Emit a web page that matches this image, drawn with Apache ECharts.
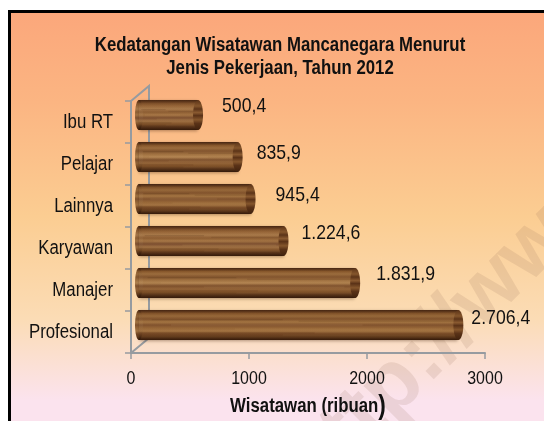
<!DOCTYPE html>
<html><head><meta charset="utf-8">
<style>html,body{margin:0;padding:0;background:#fff}#c{width:544px;height:421px}</style>
<script src="https://cdn.jsdelivr.net/npm/echarts@6/dist/echarts.min.js"></script>
</head><body><div id="c"></div>
<script>
const categories = ['Profesional','Manajer','Karyawan','Lainnya','Pelajar','Ibu RT'];
const values = [2706.4,1831.9,1224.6,945.4,835.9,500.4];
const valueLabels = ['2.706,4','1.831,9','1.224,6','945,4','835,9','500,4'];
const xTicks = [0,1000,2000,3000];
const watermark = 'http://www';
const titleText = 'Kedatangan Wisatawan Mancanegara Menurut\nJenis Pekerjaan, Tahun 2012';
// manual label placement of the original, relative to the bar end / bar centre
const labelDx = [8,16,13,20,14,19];
const labelDy = [-7,-9,-8,-4,-4,-9];

const font = '"Liberation Sans"';
const condense = 0.84;
const grains = [
 ['#56301a','#84542a','#9a6a3a','#7f4f28','#a0703c','#7a4a26','#946232','#a87642','#7a4b26','#7d4f28','#4e2b14'],
 ['#5a331b','#8a592c','#9f6f3e','#80512a','#9a6a3a','#ad7e4a','#7a4b27','#986638','#88582c','#6f4424','#4c2a15'],
 ['#5a331a','#81512a','#9a6839','#a87848','#88572c','#9e6d3c','#78492a','#a47344','#8a592d','#6d4223','#4e2b15']
];
function woodFill(i){
  const g = grains[i % grains.length];
  return {type:'linear',x:0,y:0,x2:0,y2:1,colorStops:g.map((c,k)=>({offset:k/(g.length-1),color:c}))};
}
const shade = {type:'linear',x:0,y:0,x2:0,y2:1,colorStops:[
 {offset:0,color:'rgba(50,25,8,.45)'},{offset:.12,color:'rgba(50,25,8,.06)'},
 {offset:.45,color:'rgba(255,230,190,.05)'},{offset:.8,color:'rgba(50,25,8,.10)'},{offset:1,color:'rgba(40,18,5,.65)'}]};

function renderBar(params, api){
  const i = params.dataIndex;
  const base = api.coord([0, api.value(1)]);
  const end = api.coord([api.value(0), api.value(1)]);
  const h = 30, cy = base[1]-7, x0 = base[0]+4, xr = end[0]+13, rxL = 4, rxR = 5;
  const top = cy-h/2;
  const L = xr-rxR-x0-rxL;
  const kids = [];
  kids.push({type:'ellipse',shape:{cx:x0+rxL,cy,rx:rxL,ry:h/2},style:{fill:woodFill(i)}});
  kids.push({type:'rect',shape:{x:x0+rxL,y:top,width:L,height:h},
    style:{fill:woodFill(i),shadowBlur:3,shadowColor:'rgba(60,30,10,.4)',shadowOffsetY:1}});
  [[.04,.45,.30,'rgba(70,38,14,.16)'],[.3,.95,.62,'rgba(205,160,100,.14)'],[.1,.7,.48,'rgba(215,175,120,.14)'],
   [.5,1,.36,'rgba(80,42,16,.14)'],[.0,.55,.74,'rgba(80,42,16,.16)'],[.45,1,.82,'rgba(200,150,95,.12)']].forEach(s=>{
    kids.push({type:'rect',shape:{x:x0+rxL+L*s[0],y:top+h*s[2],width:L*(s[1]-s[0]),height:1.2},style:{fill:s[3]}});
  });
  kids.push({type:'rect',shape:{x:x0+rxL,y:top,width:L,height:h},style:{fill:shade}});
  kids.push({type:'ellipse',shape:{cx:x0+rxL,cy,rx:rxL,ry:h/2},style:{fill:shade}});
  kids.push({type:'ellipse',shape:{cx:xr-rxR,cy,rx:rxR,ry:h/2},style:{fill:{type:'linear',x:0,y:0,x2:0,y2:1,colorStops:[
    {offset:0,color:'#5a3217'},{offset:.2,color:'#85562c'},{offset:.3,color:'#5c3418'},{offset:.42,color:'#8a5a30'},
    {offset:.52,color:'#5a3217'},{offset:.66,color:'#85562c'},{offset:.78,color:'#5a3217'},{offset:1,color:'#40220e'}]}}});
  kids.push({type:'text',x:xr+labelDx[i],y:cy+labelDy[i],style:{text:valueLabels[i],
    font:'21px '+font,fill:'#111',align:'left',verticalAlign:'middle'}});
  return {type:'group',children:kids};
}
function renderWall(params, api){
  const a = api.coord([0,0]), topY = api.coord([0,categories.length-1]);
  const band = api.size([0,1])[1];
  const bot = a[1]+band/2, top = topY[1]-band/2, x = a[0];
  const dx = 18, dy = 15;
  const style = {stroke:'#969ba0',lineWidth:2,fill:'none'};
  return {type:'group',children:[
    {type:'polyline',shape:{points:[[x,top],[x+dx,top-dy],[x+dx,bot-dy],[x,bot]]},style}
  ]};
}
const chart = echarts.init(document.getElementById('c'),null,{renderer:'canvas'});
chart.setOption({
  animation:false,
  backgroundColor:'#fff',
  graphic:[
    {type:'rect',z:-10,shape:{x:10,y:12,width:534,height:409},style:{fill:{type:'linear',x:0,y:0,x2:0,y2:1,colorStops:[
      {offset:0,color:'#fba77b'},{offset:.22,color:'#fbb582'},{offset:.5,color:'#fbcd92'},{offset:.75,color:'#fbdcb5'},{offset:.95,color:'#fbe3ee'},{offset:1,color:'#fbe3ee'}]}}},
    {type:'rect',z:-9,shape:{x:8,y:10,width:536,height:3},style:{fill:'#000'}},
    {type:'rect',z:-9,shape:{x:8,y:10,width:3,height:411},style:{fill:'#000'}},
    {type:'text',z:-8,rotation:Math.PI/4,x:298,y:482,style:{text:watermark,font:'bold 85px "Liberation Sans"',fill:'rgba(150,105,85,.15)',align:'left',verticalAlign:'middle'}}
  ],
  title:{text:titleText,left:275,top:29,textAlign:'center',
    textStyle:{fontFamily:font,fontSize:20,fontWeight:'bold',color:'#111',lineHeight:23}},
  grid:{left:131,top:101,width:354,height:252,containLabel:false,outerBoundsMode:'none'},
  xAxis:{type:'value',min:0,max:3000,interval:1000,
    name:'{a|Wisatawan (ribuan}{b|)}',nameLocation:'middle',nameGap:38,
    nameTextStyle:{rich:{a:{fontFamily:font,fontSize:20,fontWeight:'bold',color:'#111'},b:{fontFamily:font,fontSize:27,fontWeight:'bold',color:'#111'}}},
    axisLine:{show:true,lineStyle:{color:'#969ba0',width:2}},
    axisTick:{show:true,length:6,lineStyle:{color:'#969ba0',width:1.5}},
    splitLine:{show:false},
    axisLabel:{margin:16,fontFamily:font,fontSize:19,color:'#111',
      customValues:xTicks,formatter:v=>String(v)}},
  yAxis:{type:'category',data:categories,
    axisLine:{show:true,lineStyle:{color:'#969ba0',width:2}},
    axisTick:{show:true,length:6,lineStyle:{color:'#969ba0',width:1.5}},
    splitLine:{show:false},
    axisLabel:{margin:18,fontFamily:font,fontSize:20,color:'#111'}},
  series:[
    {type:'custom',z:1,renderItem:renderWall,data:[[0,0]],silent:true},
    {type:'custom',z:3,renderItem:renderBar,encode:{x:0,y:1},data:values.map((v,i)=>[v,i])}
  ]
});
// The original uses a condensed face; none is installed, so narrow the text horizontally.
const zr = chart.getZr();
(function walk(list){
  list.forEach(el => {
    if (el.type === 'text' && el.style && el.style.text !== watermark) { el.scaleX = condense; el.markRedraw(); }
    if (el.children) walk(el.children());
  });
})(zr.storage.getRoots());
zr.refreshImmediate && zr.refreshImmediate();
</script></body></html>
